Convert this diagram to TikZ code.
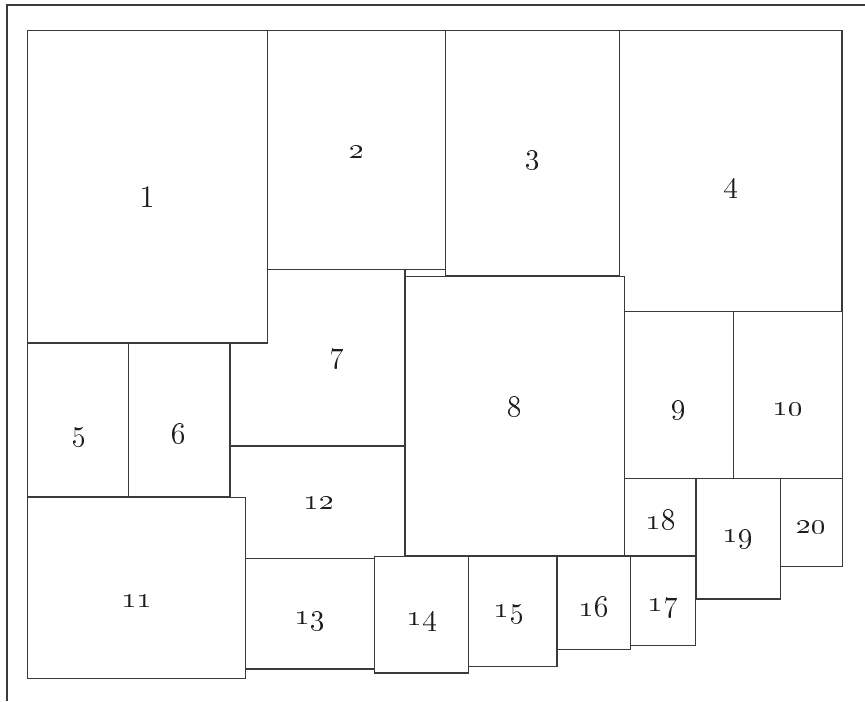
\documentclass[tikz,border=0pt]{standalone}
\usepackage{tikz}
\definecolor{ink}{HTML}{3A3A3A}
\definecolor{digit}{HTML}{1E1E1E}
\tikzset{
  box/.style={draw=ink, fill=white, line width=0.5pt},
  frame/.style={draw=ink, line width=0.55pt},
  num/.style={text=digit, inner sep=0pt, font=\fontsize{12.5}{14}\selectfont},
}

\begin{document}
\begin{tikzpicture}[x=0.4pt, y=-0.4pt]
  \useasboundingbox (0,0) rectangle (865,701);
  % page frame, cut by the page edge
  \draw[frame] (865,5) -- (7,5) -- (7,701);

  % blocks, back to front
  \draw[box] (230,269.3) rectangle (405,446);
  \draw[box] (27.3,30.7) rectangle (267.7,343);
  \draw[box] (267.7,30.7) rectangle (445.7,269.3);
  \draw[box] (445.7,30.7) rectangle (619.3,275.3);
  \draw[box] (619.3,30.7) rectangle (842,311.3);
  \draw[box] (27.3,343) rectangle (128.3,496.7);
  \draw[box] (128.3,343) rectangle (230,496.7);
  \draw[box] (405,276.7) rectangle (624.3,555.7);
  \draw[box] (624.7,311.7) rectangle (733.3,478.3);
  \draw[box] (733.3,311.7) rectangle (842.3,478.3);
  \draw[box] (230,446) rectangle (404.3,558.3);
  \draw[box] (27.3,497.3) rectangle (245.7,678.3);
  \draw[box] (245.7,558.3) rectangle (374.3,669);
  \draw[box] (374.3,556.3) rectangle (468.7,673);
  \draw[box] (468.7,556.3) rectangle (557,666.7);
  \draw[box] (557,556.3) rectangle (630.3,649.7);
  \draw[box] (630.3,556) rectangle (695.7,645.7);
  \draw[box] (624.7,478.3) rectangle (696,556);
  \draw[box] (696,478.3) rectangle (780.3,599);
  \draw[box] (780.3,478.3) rectangle (842.3,566.3);

  % block numbers
  \node[num] (n1) at (147,197) {1};
  \node[num] (n2) at (357,152) {\oldstylenums{2}};
  \node[num] (n3) at (533,160) {\oldstylenums{3}};
  \node[num] (n4) at (731,189) {\oldstylenums{4}};
  \node[num] (n5) at (79,437) {\oldstylenums{5}};
  \node[num] (n6) at (179,434) {\oldstylenums{6}};
  \node[num] (n7) at (337,359) {\oldstylenums{7}};
  \node[num] (n8) at (515,407) {\oldstylenums{8}};
  \node[num] (n9) at (679,410) {\oldstylenums{9}};
  \node[num] (n10) at (788,409) {\oldstylenums{10}};
  \node[num] (n11) at (137,601) {\oldstylenums{11}};
  \node[num] (n12) at (319,503) {\oldstylenums{12}};
  \node[num] (n13) at (310,621) {\oldstylenums{13}};
  \node[num] (n14) at (422,622) {\oldstylenums{14}};
  \node[num] (n15) at (509,614) {\oldstylenums{15}};
  \node[num] (n16) at (594,607) {\oldstylenums{16}};
  \node[num] (n17) at (663,608) {\oldstylenums{17}};
  \node[num] (n18) at (661,520) {\oldstylenums{18}};
  \node[num] (n19) at (738,539) {\oldstylenums{19}};
  \node[num] (n20) at (811,527) {\oldstylenums{20}};
\end{tikzpicture}
\end{document}
